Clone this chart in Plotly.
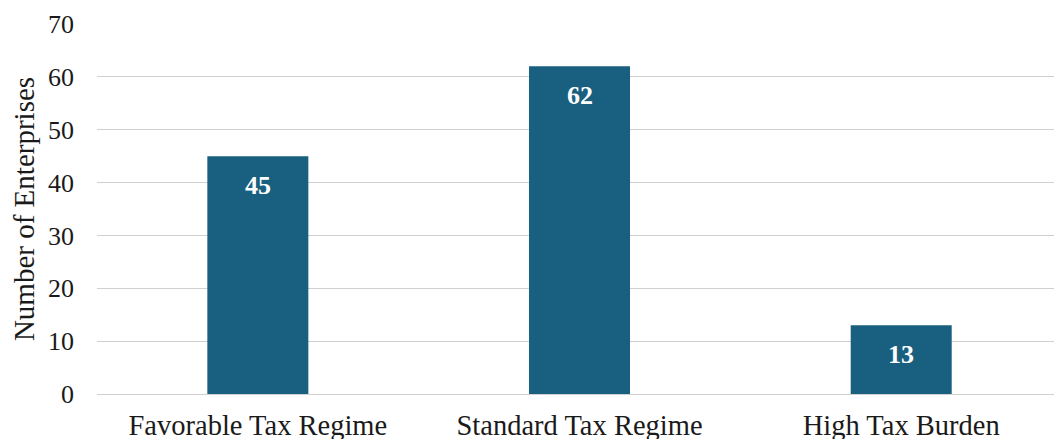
import plotly.graph_objects as go

categories = ["Favorable Tax Regime", "Standard Tax Regime", "High Tax Burden"]
values = [45, 62, 13]
y_ticks = [0, 10, 20, 30, 40, 50, 60, 70]

FONT = "Liberation Serif, Times New Roman, serif"
BAR_COLOR = "#185f80"

fig = go.Figure()
fig.add_trace(go.Bar(
    x=categories, y=values, width=0.314,
    marker=dict(color=BAR_COLOR, line=dict(width=0)),
    hoverinfo="skip",
))

for c, v in zip(categories, values):
    fig.add_annotation(
        x=c, y=v, text=f"<b>{v}</b>", showarrow=False,
        yanchor="middle", yshift=-29,
        font=dict(family=FONT, size=26, color="white"),
    )

fig.update_layout(
    width=1054, height=439,
    margin=dict(l=97, r=0, t=24, b=45),
    paper_bgcolor="white", plot_bgcolor="white",
    font=dict(family=FONT, size=27, color="#1a1a1a"),
    showlegend=False,
    bargap=0.686,
)
fig.update_xaxes(
    range=[-0.5, 2.475], showgrid=False, showline=False, zeroline=False,
    ticks="", ticklabelstandoff=11, automargin=False,
    tickfont=dict(family=FONT, size=28.5, color="#1a1a1a"),
)
fig.update_yaxes(
    range=[0, 70], tickvals=y_ticks, showgrid=True, gridcolor="#d0d0d0", gridwidth=1,
    zeroline=True, zerolinecolor="#d0d0d0", zerolinewidth=1, showline=False,
    ticks="", ticklabelstandoff=22, automargin=False,
    tickfont=dict(family=FONT, size=26, color="#1a1a1a"),
    title=dict(text="Number of Enterprises", font=dict(family=FONT, size=29, color="#1a1a1a"), standoff=4),
)

fig.write_html("out.html")
